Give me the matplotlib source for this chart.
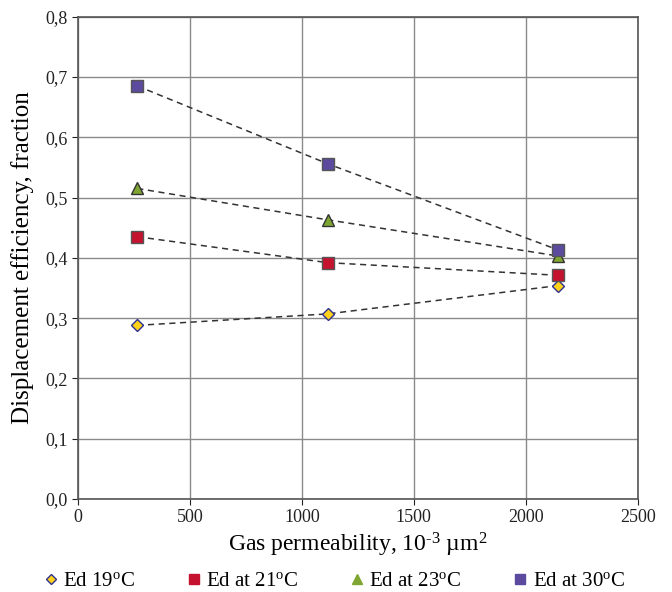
import matplotlib
matplotlib.use('Agg')
import matplotlib.pyplot as plt
from matplotlib.ticker import FuncFormatter

plt.rcParams['font.family'] = ['Liberation Serif', 'DejaVu Serif']
plt.rcParams['mathtext.fontset'] = 'custom'
plt.rcParams['mathtext.rm'] = 'Liberation Serif'
plt.rcParams['mathtext.it'] = 'Liberation Serif:italic'

# permeability, 10^-3 um^2
perm = [265, 1115, 2145]

ed_19 = [0.288, 0.307, 0.354]
ed_21 = [0.435, 0.392, 0.371]
ed_23 = [0.515, 0.463, 0.403]
ed_30 = [0.685, 0.556, 0.413]

labels = ['Ed 19$^{\\mathrm{o}}$C', 'Ed at 21$^{\\mathrm{o}}$C',
          'Ed at 23$^{\\mathrm{o}}$C', 'Ed at 30$^{\\mathrm{o}}$C']

fig = plt.figure(figsize=(6.72, 5.92), dpi=100)
ax = fig.add_axes([0.116, 0.157, 0.833, 0.815])

styles = [
    (ed_19, 'D', '#FFD21A', '#2E3192', 6),
    (ed_21, 's', '#C4122F', '#555555', 8),
    (ed_23, '^', '#7FA632', '#333333', 9),
    (ed_30, 's', '#5B4A9E', '#555555', 8),
]

handles = []
for (vals, mk, fc, ec, ms), lab in zip(styles, labels):
    ax.plot(perm, vals, linestyle=(0, (4, 3)), color='#333333', lw=1.1, zorder=2)
    ax.plot(perm, vals, linestyle='none', marker=mk, markerfacecolor=fc,
            markeredgecolor=ec, markersize=ms, markeredgewidth=1.0, zorder=3)
    h, = ax.plot([], [], linestyle='none', marker=mk, markerfacecolor=fc,
                 markeredgecolor=ec if mk == 'D' else fc,
                 markersize=ms * 0.85, label=lab)
    handles.append(h)

ax.set_xlim(0, 2500)
ax.set_ylim(0, 0.8)
ax.set_xticks(range(0, 2501, 500))
ax.set_yticks([i / 10 for i in range(9)])
ax.yaxis.set_major_formatter(FuncFormatter(lambda v, p: f'{v:.1f}'.replace('.', ',')))
ax.grid(True, color='#8a8a8a', lw=1.0)
ax.set_axisbelow(True)
for s in ax.spines.values():
    s.set_color('#555555')
    s.set_linewidth(1.2)
ax.tick_params(labelsize=13, colors='#222222', length=4, direction='out')

ax.set_xlabel('Gas permeability, 10$^{\\text{-3}}$ \u00b5m$^{\\mathrm{2}}$', fontsize=17, labelpad=3)
ax.set_ylabel('Displacement efficiency, fraction', fontsize=18, labelpad=8)

fig.legend(handles=handles, loc='lower center', bbox_to_anchor=(0.495, -0.03), ncol=4,
           frameon=False, fontsize=15, handletextpad=0.1, columnspacing=2.3,
           handlelength=1.0)

fig.savefig('out.png', dpi=100)
